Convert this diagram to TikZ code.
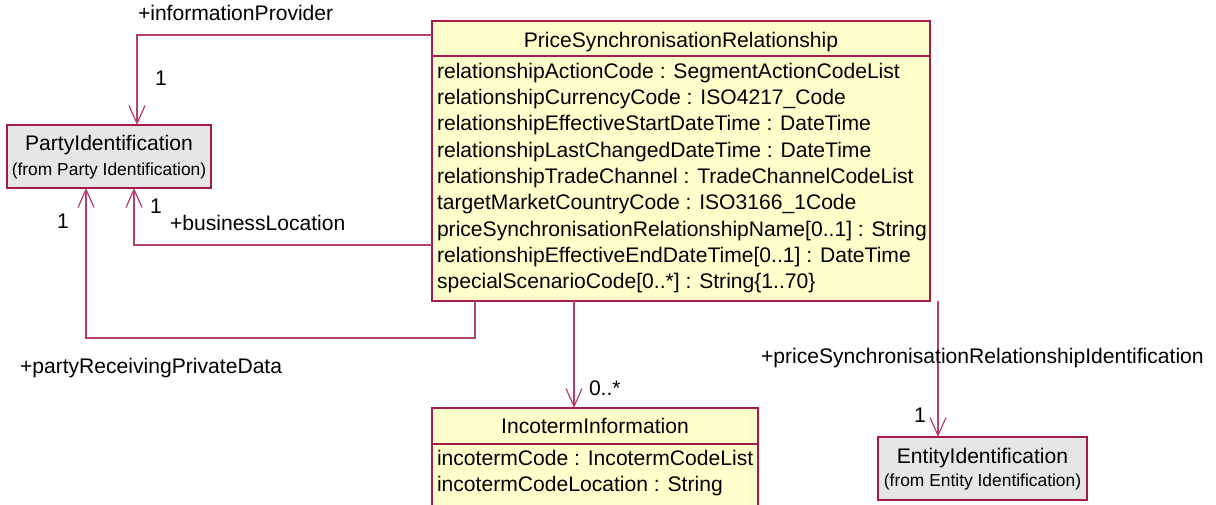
\documentclass[tikz,border=0pt]{standalone}
\usepackage{fontspec}
\setmainfont{Liberation Sans}
\usetikzlibrary{arrows.meta}
\definecolor{bordc}{RGB}{165,25,75}
\definecolor{linec}{RGB}{180,64,110}
\definecolor{clsfill}{RGB}{255,255,204}
\definecolor{extfill}{RGB}{230,230,230}
\tikzset{
 every node/.style={inner sep=0pt, outer sep=0pt},
 box/.style={draw=bordc, line width=1.3pt, anchor=north west},
 cls/.style={box, fill=clsfill},
 ext/.style={box, fill=extfill},
 txt/.style={font=\fontsize{21.1}{24}\selectfont, anchor=base west},
 ctxt/.style={font=\fontsize{21.1}{24}\selectfont, anchor=base},
 small/.style={font=\fontsize{17.4}{20}\selectfont, anchor=base},
 assoc/.style={draw=linec, line width=1.2pt, -{Straight Barb[length=18pt,width=16pt]}},
}
\begin{document}
\begin{tikzpicture}[x=1pt,y=-1pt]
\useasboundingbox (0,0) rectangle (1216,504);
\begin{scope}
\clip (0,0) rectangle (1216,504);
% boxes
\node[cls, minimum width=498pt, minimum height=35pt] (psrh) at (432,21) {};
\node[cls, minimum width=498pt, minimum height=245pt] (psrb) at (432,56) {};
\node[ext, minimum width=204pt, minimum height=63pt] (party) at (7,125) {};
\node[cls, minimum width=326pt, minimum height=36pt] (inch) at (432,408) {};
\node[cls, minimum width=326pt, minimum height=80pt] (incb) at (432,444) {};
\node[ext, minimum width=209pt, minimum height=63pt] (entity) at (878,437) {};
% connectors
\coordinate (ip1) at (137,35);
\draw[assoc] (psrh.west |- ip1) -- (ip1) -- (ip1 |- party.north);
\coordinate (bl1) at (134,245);
\draw[assoc] (psrb.west |- bl1) -- (bl1) -- (bl1 |- party.south);
\coordinate (pr1) at (475,338);
\coordinate (pr2) at (86,338);
\draw[assoc] (pr1 |- psrb.south) -- (pr1) -- (pr2) -- (pr2 |- party.south);
\coordinate (ic) at (574,0);
\draw[assoc] (ic |- psrb.south) -- (ic |- inch.north);
\coordinate (en) at (938,0);
\draw[assoc] (en |- psrb.south) -- (en |- entity.north);
% class texts
\node[ctxt] (psrt) at (681,47) {PriceSynchronisationRelationship};
\node[txt] (a1) at (437,78.3) {relationshipActionCode : SegmentActionCodeList};
\node[txt] (a2) at (437,104.6) {relationshipCurrencyCode : ISO4217\_Code};
\node[txt] (a3) at (437,130.9) {relationshipEffectiveStartDateTime : DateTime};
\node[txt] (a4) at (437,157.2) {relationshipLastChangedDateTime : DateTime};
\node[txt] (a5) at (437,183.5) {relationshipTradeChannel : TradeChannelCodeList};
\node[txt] (a6) at (437,209.8) {targetMarketCountryCode : ISO3166\_1Code};
\node[txt] (a7) at (437,236.1) {priceSynchronisationRelationshipName[0..1] : String};
\node[txt] (a8) at (437,262.4) {relationshipEffectiveEndDateTime[0..1] : DateTime};
\node[txt] (a9) at (437,288.7) {specialScenarioCode[0..*] : String\{1..70\}};
\node[ctxt] (partyt) at (109,150.7) {PartyIdentification};
\node[small] (partys) at (109,175.7) {(from Party Identification)};
\node[ctxt] (inct) at (595,433.3) {IncotermInformation};
\node[txt] (i1) at (437,465.7) {incotermCode : IncotermCodeList};
\node[txt] (i2) at (437,491.7) {incotermCodeLocation : String};
\node[ctxt] (entt) at (982.5,463.3) {EntityIdentification};
\node[small] (ents) at (982.5,486.7) {(from Entity Identification)};
% labels
\node[txt] (lip) at (138,20.7) {+informationProvider};
\node[txt] (mip) at (155,85) {1};
\node[txt] (mbl) at (150,213) {1};
\node[txt] (lbl) at (170,230.7) {+businessLocation};
\node[txt] (mpr) at (57,228) {1};
\node[txt] (lpr) at (20,373) {+partyReceivingPrivateData};
\node[txt] (mic) at (589,395) {0..*};
\node[txt] (len) at (761,363.3) {+priceSynchronisationRelationshipIdentification};
\node[txt] (men) at (914,422.7) {1};
\end{scope}
\end{tikzpicture}
\end{document}
